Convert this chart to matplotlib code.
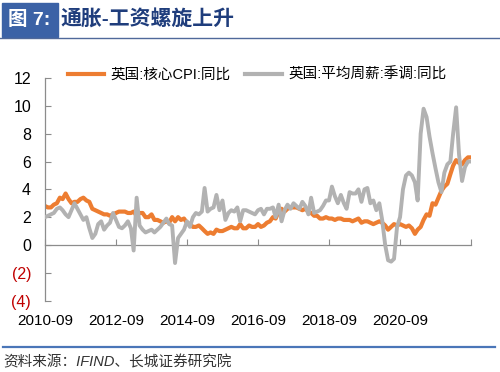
import matplotlib
matplotlib.use("Agg")
import matplotlib.pyplot as plt
import numpy as np
import pandas as pd
from matplotlib.patches import Rectangle
from matplotlib.lines import Line2D

plt.rcParams['font.family'] = ['Liberation Sans', 'Noto Sans CJK SC', 'DejaVu Sans']

# === Dati (mensili, 2010-09 .. 2022-09) ===
months = pd.date_range("2010-09-01", periods=145, freq="MS")

core_cpi = [
    2.8, 2.7, 2.7, 2.9,
    3.0, 3.4, 3.3, 3.7, 3.3, 3.0, 3.1, 3.1, 3.3, 3.4, 3.2, 3.1,
    2.6, 2.5, 2.4, 2.3, 2.2, 2.2, 2.1, 2.2, 2.3, 2.4, 2.4, 2.4,
    2.3, 2.3, 2.4, 2.1, 2.3, 2.3, 2.0, 2.0, 2.2, 1.8, 1.8, 1.7,
    1.6, 1.7, 1.6, 2.0, 1.7, 2.0, 1.8, 1.9, 1.6, 1.5, 1.3, 1.3,
    1.4, 1.2, 1.0, 0.8, 0.9, 0.8, 1.1, 1.0, 1.0, 1.1, 1.2, 1.3,
    1.2, 1.2, 1.5, 1.2, 1.2, 1.4, 1.3, 1.3, 1.5, 1.3, 1.4, 1.6,
    1.7, 2.0, 1.9, 2.4, 2.6, 2.4, 2.6, 2.7, 2.7, 2.7, 2.6, 2.5,
    2.6, 2.4, 2.3, 2.1, 2.1, 1.9, 1.9, 2.0, 1.9, 1.9, 1.8, 1.9,
    1.9, 1.8, 1.8, 1.8, 1.7, 1.8, 1.9, 1.6, 1.7, 1.7, 1.6, 1.5,
    1.6, 1.7, 1.6, 1.4, 1.1, 1.3, 1.5, 1.4, 1.5, 1.4, 1.3, 1.4,
    1.2, 0.8, 1.1, 1.3, 1.8, 2.2, 2.1, 3.0, 2.9, 3.4, 3.9, 4.2,
    4.4, 5.1, 5.7, 6.1, 5.9, 5.8, 6.1, 6.3, 6.3,
]

weekly_pay = [
    2.0, 2.1, 2.2, 2.3,
    2.6, 2.7, 2.5, 2.2, 2.0, 2.5, 3.0, 2.6, 2.2, 1.8, 2.0, 1.2,
    0.5, 0.8, 1.5, 1.7, 1.1, 1.4, 1.6, 2.3, 1.8, 1.3, 1.2, 1.4,
    1.7, 1.2, -0.4, 3.4, 1.4, 1.1, 0.9, 1.0, 1.1, 0.9, 1.1, 1.3,
    1.6, 1.9, 1.5, 1.4, -1.3, 0.5, 0.8, 1.1, 1.7, 1.3, 2.0, 2.3,
    2.2, 2.4, 4.1, 2.4, 2.6, 2.7, 3.6, 2.5, 3.2, 1.8, 2.3, 2.5,
    2.4, 2.7, 1.7, 2.5, 2.5, 2.4, 2.3, 2.2, 2.5, 2.6, 2.2, 2.6,
    2.6, 2.7, 2.0, 2.9, 1.7, 2.5, 2.9, 2.6, 3.0, 2.8, 2.6, 3.1,
    2.8, 2.2, 3.4, 2.3, 2.4, 2.5, 2.8, 3.2, 3.2, 4.2, 3.5, 3.0,
    3.6, 3.0, 2.6, 3.8, 3.7, 3.7, 4.0, 3.1, 4.0, 4.1, 3.0, 3.2,
    2.5, 3.0, 1.8, 0.0, -1.1, -1.2, -1.0, 1.3, 2.0, 4.0, 5.0, 5.2,
    5.0, 4.5, 3.2, 8.0, 9.8, 9.2, 7.8, 6.6, 5.5, 4.5, 3.8, 5.2,
    5.8, 6.0, 8.0, 9.9, 6.5, 4.6, 5.6, 6.0, 6.0,
]

series_names = ["英国:核心CPI:同比", "英国:平均周薪:季调:同比"]
y_ticks = [-4, -2, 0, 2, 4, 6, 8, 10, 12]
y_labels = ["(4)", "(2)", "0", "2", "4", "6", "8", "10", "12"]
x_tick_dates = pd.date_range("2010-09-01", "2022-09-01", freq="24MS")
x_labels = [d.strftime("%Y-%m") for d in x_tick_dates[:-1]] + [""]

ORANGE = "#ED7D31"
GREY = "#B2B2B2"
AXIS_GREY = "#8C8C8C"

# === Figura ===
fig = plt.figure(figsize=(5.0, 3.72), dpi=100)
ax = fig.add_axes([0.09, 0.192, 0.852, 0.598])

ax.plot(months, core_cpi, color=ORANGE, lw=3.0, solid_joinstyle="round", zorder=2)
ax.plot(months, weekly_pay, color=GREY, lw=2.8, solid_joinstyle="round", zorder=3)

ax.set_xlim(months[0], months[-1])
ax.set_ylim(-4, 12)

for s in ["top", "right"]:
    ax.spines[s].set_visible(False)
ax.spines["bottom"].set_position(("data", 0))
ax.spines["bottom"].set_color(AXIS_GREY)
ax.spines["left"].set_color(AXIS_GREY)
ax.spines["bottom"].set_linewidth(0.9)
ax.spines["left"].set_linewidth(0.9)

ax.set_yticks(y_ticks)
ax.set_yticklabels(y_labels)
for lbl, v in zip(ax.get_yticklabels(), y_ticks):
    lbl.set_color("#C00000" if v < 0 else "black")
ax.tick_params(axis="y", direction="in", length=4, color=AXIS_GREY, labelsize=11.5, pad=10)

ax.set_xticks(x_tick_dates)
ax.set_xticklabels(x_labels)
ax.tick_params(axis="x", direction="in", length=4, color=AXIS_GREY, labelsize=11, pad=50)

# === Legenda ===
handles = [Line2D([], [], color=ORANGE, lw=3.0), Line2D([], [], color=GREY, lw=3.0)]
fig.legend(handles, series_names, loc="center left", bbox_to_anchor=(0.135, 1 - 75 / 372),
           ncol=2, frameon=False, fontsize=10.5, handlelength=2.5, handletextpad=0.45,
           columnspacing=1.0, borderpad=0, borderaxespad=0)

# === Titolo ===
fig.patches.append(Rectangle((2 / 500, 1 - 37 / 372), 56 / 500, 34 / 372,
                             transform=fig.transFigure, color="#3B62A6", zorder=0))
fig.text(29 / 500, 1 - 20 / 372, "图 7:", color="white", fontsize=14, fontweight="bold",
         ha="center", va="center")
fig.text(60 / 500, 1 - 20 / 372, "通胀-工资螺旋上升", color="#1F3D7C", fontsize=15,
         fontweight="bold", ha="left", va="center")
fig.add_artist(Line2D([0, 1], [1 - 37.5 / 372] * 2, transform=fig.transFigure,
                      color="#50699A", lw=1.0))

# === Fonte ===
fig.add_artist(Line2D([3 / 500, 495 / 500], [1 - 347 / 372] * 2, transform=fig.transFigure,
                      color="#4A76B8", lw=1.6))
fig.text(3 / 500, 1 - 362 / 372, "资料来源：IFIND、长城证券研究院", color="#333333",
         fontsize=10.5, fontstyle="italic", ha="left", va="center")

fig.savefig("out.png", dpi=100)
